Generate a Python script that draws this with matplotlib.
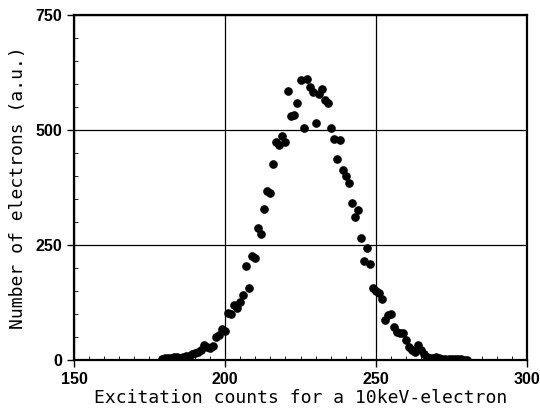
import matplotlib.pyplot as plt
from matplotlib.ticker import MultipleLocator

# excitation counts per 10 keV electron
counts = [179, 180, 181, 182, 183, 184, 185, 186, 187, 188,
          189, 190, 191, 192, 193, 194, 195, 196, 197, 198,
          199, 200, 201, 202, 203, 204, 205, 206, 207, 208,
          209, 210, 211, 212, 213, 214, 215, 216, 217, 218,
          219, 220, 221, 222, 223, 224, 225, 226, 227, 228,
          229, 230, 231, 232, 233, 234, 235, 236, 237, 238,
          239, 240, 241, 242, 243, 244, 245, 246, 247, 248,
          249, 250, 251, 252, 253, 254, 255, 256, 257, 258,
          259, 260, 261, 262, 263, 264, 265, 266, 267, 268,
          269, 270, 271, 272, 273, 274, 275, 276, 277, 278,
          279, 280]
electrons = [3, 4, 5, 4, 6, 7, 5, 6, 9, 8,
             12, 14, 18, 22, 33, 28, 26, 30, 50, 54,
             67, 63, 102, 100, 120, 113, 126, 141, 204, 157,
             226, 222, 287, 274, 328, 367, 363, 426, 474, 467,
             487, 474, 585, 530, 533, 559, 609, 504, 611, 593,
             583, 515, 578, 589, 565, 559, 504, 480, 437, 478,
             413, 400, 385, 341, 311, 326, 265, 215, 243, 209,
             157, 150, 146, 133, 87, 98, 100, 72, 61, 59,
             59, 43, 28, 22, 17, 33, 22, 12, 7, 5,
             4, 6, 4, 3, 2, 3, 2, 1, 2, 1,
             0, 0]

xticks = [150, 200, 250, 300]
yticks = [0, 250, 500, 750]

fig = plt.figure(figsize=(5.4, 4.18), dpi=100)
ax = fig.add_axes([0.137, 0.139, 0.839, 0.825])

ax.plot(counts, electrons, 'o', color='black', markersize=5.2, zorder=3)

ax.set_xlim(150, 300)
ax.set_ylim(0, 750)
ax.set_xticks(xticks)
ax.set_yticks(yticks)
ax.xaxis.set_minor_locator(MultipleLocator(5))
ax.yaxis.set_minor_locator(MultipleLocator(50))
ax.grid(True, which='major', color='black', linewidth=0.9)

ax.tick_params(which='major', direction='out', length=5, width=1, labelsize=11.5)
ax.tick_params(which='minor', direction='in', length=3, width=0.6)
for s in ax.spines.values():
    s.set_linewidth(1.6)
for lab in ax.get_xticklabels() + ax.get_yticklabels():
    lab.set_family('Liberation Sans')
    lab.set_weight('bold')

ax.set_xlabel('Excitation counts for a 10keV-electron', family='DejaVu Sans Mono',
              fontsize=13, labelpad=2)
ax.set_ylabel('Number of electrons (a.u.)', family='DejaVu Sans Mono',
              fontsize=13, labelpad=6)

fig.savefig('out.png', dpi=100)
